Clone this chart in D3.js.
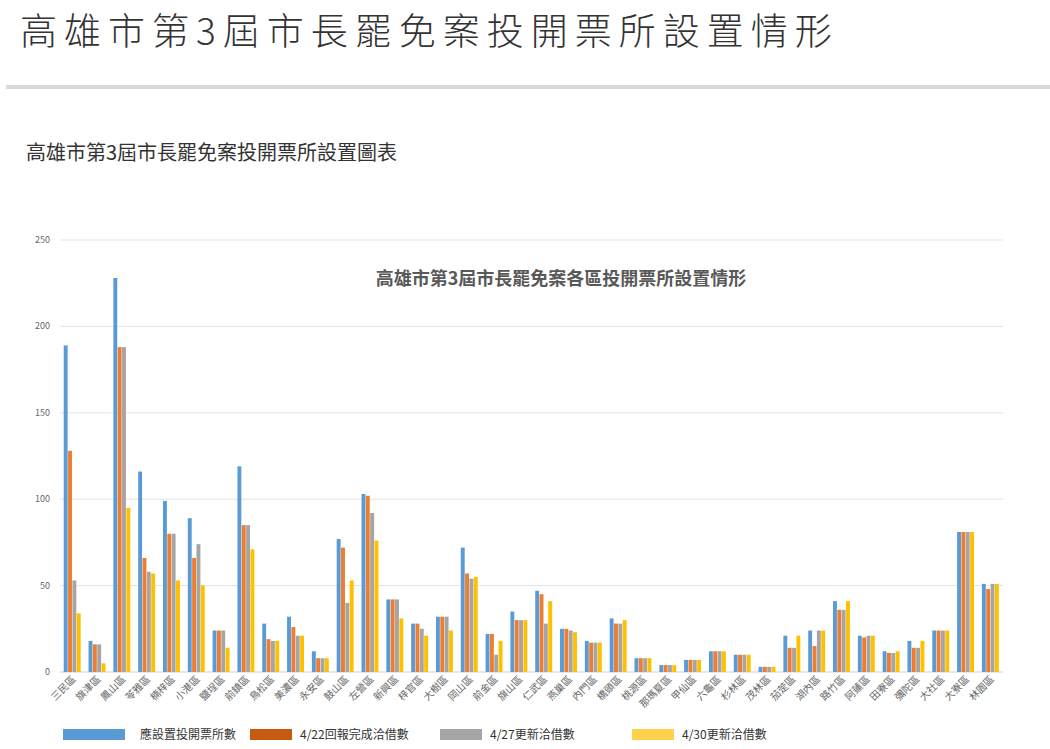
<!DOCTYPE html>
<html><head><meta charset="utf-8">
<script src="https://cdn.jsdelivr.net/npm/d3@7"></script>
<style>
body{margin:0;background:#fff;font-family:"Noto Sans CJK TC","Noto Sans",sans-serif;}
</style></head>
<body>
<svg id="chart" width="1050" height="749"></svg>
<script>
const districts = ["三民區","旗津區","鳳山區","苓雅區","楠梓區","小港區","鹽埕區","前鎮區","鳥松區","美濃區","永安區","鼓山區","左營區","新興區","梓官區","大樹區","岡山區","前金區","旗山區","仁武區","燕巢區","內門區","橋頭區","桃源區","那瑪夏區","甲仙區","六龜區","杉林區","茂林區","茄萣區","湖內區","路竹區","阿蓮區","田寮區","彌陀區","大社區","大寮區","林園區"];
const planned = [189,18,228,116,99,89,24,119,28,32,12,77,103,42,28,32,72,22,35,47,25,18,31,8,4,7,12,10,3,21,24,41,21,12,18,24,81,51];
const apr22 = [128,16,188,66,80,66,24,85,19,26,8,72,102,42,28,32,57,22,30,45,25,17,28,8,4,7,12,10,3,14,15,36,20,11,14,24,81,48];
const apr27 = [53,16,188,58,80,74,24,85,18,21,8,40,92,42,25,32,54,10,30,28,24,17,28,8,4,7,12,10,3,14,24,36,21,11,14,24,81,51];
const apr30 = [34,5,95,57,53,50,14,71,18,21,8,53,76,31,21,24,55,18,30,41,23,17,30,8,4,7,12,10,3,21,24,41,21,12,18,24,81,51];
const seriesNames = ["應設置投開票所數","4/22回報完成洽借數","4/27更新洽借數","4/30更新洽借數"];
const seriesColors = ["#5B9BD5","#ED7D31","#A5A5A5","#FFC000"];
const legendColors = ["#5B9BD5","#C55A11","#A5A5A5","#FFD24D"];
const yTicks = [0,50,100,150,200,250];

const svg = d3.select("#chart");

// page header
svg.append("text").attr("x",20).attr("y",45).attr("font-size",37).attr("font-weight",300).attr("fill","#333")
  .attr("letter-spacing",7).text("高雄市第3屆市長罷免案投開票所設置情形");
svg.append("rect").attr("x",6).attr("y",85).attr("width",1044).attr("height",4).attr("fill","#d8d8d8");
svg.append("text").attr("x",26).attr("y",160).attr("font-size",20).attr("fill","#333")
  .text("高雄市第3屆市長罷免案投開票所設置圖表");

const margin = {left:60, right:47, top:240, bottom:77};
const W = 1050, H = 749;
const x0 = d3.scaleBand().domain(districts).range([margin.left, W - margin.right]).paddingInner(0.3).paddingOuter(0.15);
const x1 = d3.scaleBand().domain(d3.range(4)).range([0, x0.bandwidth()]);
const y = d3.scaleLinear().domain([0,250]).range([H - margin.bottom, margin.top]);

// grid
svg.append("g").selectAll("line").data(yTicks).join("line")
  .attr("x1",margin.left).attr("x2",W - margin.right)
  .attr("y1",d=>y(d)).attr("y2",d=>y(d))
  .attr("stroke",d=>d===0?"#cfcfcf":"#e3e3e3").attr("stroke-width",1);
svg.append("g").selectAll("text").data(yTicks).join("text")
  .attr("x",50).attr("y",d=>y(d)+3).attr("text-anchor","end")
  .attr("font-size",9).attr("fill","#666").text(d=>d);

svg.append("text").attr("x",561).attr("y",285).attr("text-anchor","middle")
  .attr("font-size",18).attr("font-weight","bold").attr("fill","#595959")
  .text("高雄市第3屆市長罷免案各區投開票所設置情形");

const series = [planned, apr22, apr27, apr30];
series.forEach((vals,si)=>{
  svg.append("g").selectAll("rect").data(vals).join("rect")
    .attr("x",(d,i)=>x0(districts[i]) + x1(si))
    .attr("width",x1.bandwidth()*0.9)
    .attr("y",d=>y(d))
    .attr("height",d=>y(0)-y(d))
    .attr("fill",seriesColors[si]);
});

// x labels rotated
svg.append("g").selectAll("text").data(districts).join("text")
  .attr("transform",d=>`translate(${x0(d)+x0.bandwidth()/2+4},${y(0)+8}) rotate(-45)`)
  .attr("text-anchor","end").attr("font-size",10).attr("fill","#666").text(d=>d);

// legend
const legX = [63,250,440,632];
seriesNames.forEach((n,i)=>{
  svg.append("rect").attr("x",legX[i]).attr("y",729).attr("width",i===0?62:42).attr("height",11).attr("fill",legendColors[i]);
  svg.append("text").attr("x",legX[i]+(i===0?77:50)).attr("y",739).attr("font-size",12).attr("fill","#333").text(n);
});
</script>
</body></html>
